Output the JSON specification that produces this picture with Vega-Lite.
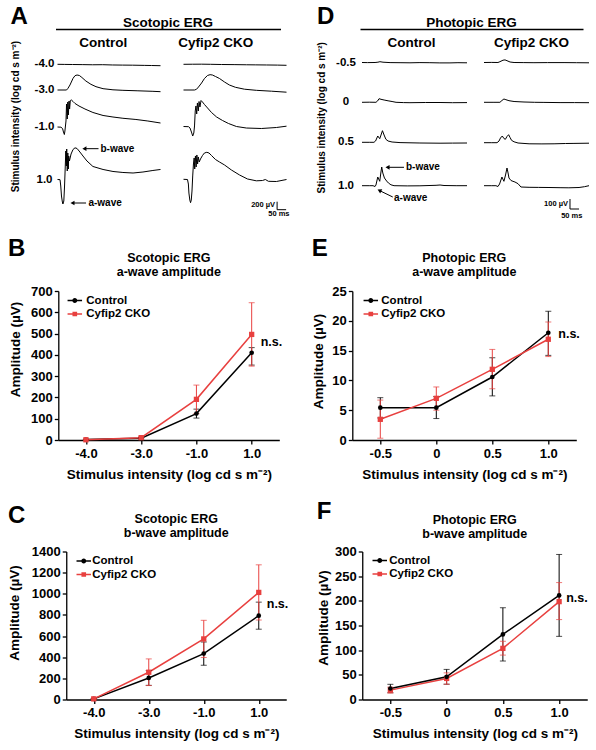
{
"$schema":"https://vega.github.io/schema/vega-lite/v6.json",
"padding":{"left":2,"top":4,"right":2,"bottom":2},
"config":{"font":"Liberation Sans","view":{"stroke":null},"mark":{"color":"black"},
"text":{"font":"Liberation Sans","fontWeight":"bold","color":"black"},
"title":{"font":"Liberation Sans","fontWeight":"bold","color":"black"},
"axis":{"labelFont":"Liberation Sans","titleFont":"Liberation Sans","labelFontWeight":"bold","titleFontWeight":"bold","labelColor":"black","titleColor":"black","domainColor":"black","tickColor":"black","grid":false,"labelOverlap":false},
"legend":{"labelFont":"Liberation Sans"}},
"datasets":{
"Ac1":[{"t":0,"v":0},{"t":40,"v":-3},{"t":83,"v":-5},{"t":140,"v":-8},{"t":194,"v":-12},{"t":250,"v":-10},{"t":304,"v":-17},{"t":360,"v":-20},{"t":415,"v":-22},{"t":480,"v":-27},{"t":520,"v":-30},{"t":570,"v":-35}],
"Ac2":[{"t":0,"v":0},{"t":50,"v":0},{"t":58,"v":42},{"t":69,"v":125},{"t":86,"v":292},{"t":97,"v":358},{"t":108,"v":375},{"t":121,"v":363},{"t":135,"v":313},{"t":157,"v":225},{"t":185,"v":142},{"t":213,"v":83},{"t":252,"v":33},{"t":307,"v":5},{"t":362,"v":-8},{"t":445,"v":-20},{"t":528,"v":-33},{"t":570,"v":-42}],
"Ac3":[{"t":0,"v":0},{"t":19,"v":-5},{"t":28,"v":-38},{"t":33,"v":-125},{"t":38,"v":-188},{"t":41,"v":-100},{"t":47,"v":150},{"t":50,"v":575},{"t":54,"v":200},{"t":57,"v":625},{"t":60,"v":300},{"t":64,"v":650},{"t":67,"v":450},{"t":71,"v":663},{"t":77,"v":675},{"t":86,"v":638},{"t":97,"v":588},{"t":119,"v":525},{"t":152,"v":450},{"t":196,"v":363},{"t":252,"v":288},{"t":307,"v":250},{"t":362,"v":218},{"t":434,"v":188},{"t":500,"v":150},{"t":570,"v":100}],
"Ac4":[{"t":0,"v":13},{"t":14,"v":8},{"t":18,"v":-150},{"t":22,"v":-400},{"t":27,"v":-550},{"t":30,"v":-600},{"t":35,"v":-525},{"t":39,"v":-150},{"t":43,"v":350},{"t":46,"v":725},{"t":49,"v":350},{"t":51,"v":775},{"t":54,"v":225},{"t":57,"v":675},{"t":60,"v":275},{"t":62,"v":600},{"t":66,"v":475},{"t":75,"v":650},{"t":86,"v":763},{"t":97,"v":805},{"t":108,"v":788},{"t":124,"v":700},{"t":141,"v":600},{"t":163,"v":475},{"t":196,"v":338},{"t":252,"v":263},{"t":307,"v":213},{"t":362,"v":188},{"t":418,"v":175},{"t":473,"v":200},{"t":528,"v":238},{"t":570,"v":263}],
"Ak1":[{"t":0,"v":0},{"t":50,"v":2},{"t":100,"v":3},{"t":150,"v":0},{"t":210,"v":-5},{"t":280,"v":-8},{"t":348,"v":-12},{"t":400,"v":-14},{"t":459,"v":-17},{"t":520,"v":-20},{"t":570,"v":-25}],
"Ak2":[{"t":0,"v":0},{"t":61,"v":0},{"t":72,"v":18},{"t":83,"v":75},{"t":100,"v":175},{"t":116,"v":288},{"t":133,"v":363},{"t":147,"v":383},{"t":160,"v":375},{"t":177,"v":338},{"t":199,"v":288},{"t":227,"v":200},{"t":254,"v":125},{"t":287,"v":68},{"t":337,"v":20},{"t":403,"v":-8},{"t":487,"v":-30},{"t":570,"v":-55}],
"Ak3":[{"t":0,"v":0},{"t":28,"v":-5},{"t":36,"v":-38},{"t":44,"v":-138},{"t":51,"v":-238},{"t":57,"v":-163},{"t":61,"v":13},{"t":65,"v":388},{"t":69,"v":513},{"t":73,"v":313},{"t":77,"v":588},{"t":82,"v":388},{"t":86,"v":625},{"t":91,"v":488},{"t":97,"v":650},{"t":105,"v":613},{"t":116,"v":550},{"t":133,"v":463},{"t":155,"v":350},{"t":183,"v":238},{"t":216,"v":150},{"t":249,"v":75},{"t":293,"v":0},{"t":348,"v":-38},{"t":431,"v":-50},{"t":514,"v":-25},{"t":570,"v":8}],
"Ak4":[{"t":0,"v":0},{"t":22,"v":-5},{"t":27,"v":-118},{"t":30,"v":-343},{"t":35,"v":-518},{"t":39,"v":-585},{"t":43,"v":-518},{"t":47,"v":-293},{"t":51,"v":83},{"t":55,"v":383},{"t":59,"v":533},{"t":62,"v":258},{"t":66,"v":583},{"t":70,"v":308},{"t":74,"v":608},{"t":78,"v":383},{"t":82,"v":558},{"t":87,"v":433},{"t":94,"v":508},{"t":105,"v":595},{"t":116,"v":658},{"t":129,"v":675},{"t":141,"v":658},{"t":155,"v":595},{"t":177,"v":495},{"t":199,"v":433},{"t":227,"v":358},{"t":265,"v":233},{"t":310,"v":108},{"t":354,"v":8},{"t":403,"v":-38},{"t":437,"v":-30},{"t":453,"v":-5},{"t":470,"v":-50},{"t":514,"v":-55},{"t":570,"v":-5}],
"Dc1":[{"t":0,"v":0},{"t":30,"v":-1},{"t":72,"v":0},{"t":88,"v":3},{"t":99,"v":8},{"t":116,"v":3},{"t":155,"v":-1},{"t":210,"v":-2},{"t":265,"v":-3},{"t":320,"v":-1},{"t":375,"v":-2},{"t":430,"v":-4},{"t":486,"v":-4},{"t":530,"v":-2},{"t":580,"v":-3}],
"Dc2":[{"t":0,"v":0},{"t":40,"v":1},{"t":77,"v":0},{"t":86,"v":13},{"t":94,"v":36},{"t":105,"v":30},{"t":122,"v":23},{"t":144,"v":15},{"t":166,"v":8},{"t":188,"v":0},{"t":230,"v":-3},{"t":265,"v":-4},{"t":350,"v":-2},{"t":431,"v":-2},{"t":500,"v":-4},{"t":580,"v":-3}],
"Dc3":[{"t":0,"v":0},{"t":40,"v":0},{"t":66,"v":0},{"t":75,"v":13},{"t":87,"v":63},{"t":98,"v":36},{"t":105,"v":73},{"t":113,"v":116},{"t":122,"v":73},{"t":132,"v":30},{"t":144,"v":13},{"t":166,"v":3},{"t":210,"v":-3},{"t":320,"v":-7},{"t":431,"v":-9},{"t":500,"v":-8},{"t":580,"v":-7}],
"Dc4":[{"t":0,"v":0},{"t":40,"v":0},{"t":61,"v":0},{"t":72,"v":-8},{"t":77,"v":7},{"t":87,"v":87},{"t":98,"v":44},{"t":104,"v":127},{"t":109,"v":187},{"t":115,"v":127},{"t":124,"v":77},{"t":136,"v":47},{"t":146,"v":27},{"t":160,"v":9},{"t":177,"v":0},{"t":250,"v":-2},{"t":320,"v":-1},{"t":409,"v":4},{"t":431,"v":7},{"t":453,"v":2},{"t":520,"v":0},{"t":580,"v":0}],
"Dk1":[{"t":0,"v":0},{"t":40,"v":1},{"t":77,"v":0},{"t":88,"v":8},{"t":105,"v":23},{"t":116,"v":26},{"t":127,"v":18},{"t":144,"v":5},{"t":166,"v":0},{"t":220,"v":-1},{"t":276,"v":-2},{"t":350,"v":-1},{"t":442,"v":-1},{"t":510,"v":-2},{"t":580,"v":-3}],
"Dk2":[{"t":0,"v":0},{"t":50,"v":0},{"t":88,"v":0},{"t":99,"v":18},{"t":110,"v":33},{"t":121,"v":26},{"t":138,"v":16},{"t":166,"v":8},{"t":221,"v":3},{"t":280,"v":0},{"t":331,"v":-1},{"t":420,"v":-3},{"t":500,"v":-3},{"t":580,"v":-4}],
"Dk3":[{"t":0,"v":0},{"t":40,"v":0},{"t":72,"v":0},{"t":83,"v":17},{"t":91,"v":47},{"t":101,"v":67},{"t":110,"v":42},{"t":118,"v":34},{"t":127,"v":62},{"t":136,"v":80},{"t":144,"v":52},{"t":152,"v":24},{"t":166,"v":9},{"t":188,"v":-3},{"t":249,"v":-11},{"t":320,"v":-12},{"t":387,"v":-11},{"t":450,"v":-8},{"t":497,"v":-7},{"t":580,"v":-5}],
"Dk4":[{"t":0,"v":0},{"t":40,"v":0},{"t":66,"v":0},{"t":77,"v":-8},{"t":86,"v":17},{"t":99,"v":87},{"t":110,"v":44},{"t":119,"v":107},{"t":127,"v":177},{"t":133,"v":127},{"t":138,"v":77},{"t":149,"v":52},{"t":160,"v":44},{"t":171,"v":37},{"t":188,"v":20},{"t":204,"v":-13},{"t":249,"v":-16},{"t":300,"v":-17},{"t":359,"v":-18},{"t":420,"v":-20},{"t":469,"v":-21},{"t":525,"v":-18},{"t":555,"v":-10},{"t":580,"v":0}]
},
"resolve":{"scale":{"color":"independent","shape":"independent"},"legend":{"color":"independent","shape":"independent"}},
"columns":1,"spacing":17,
"concat":[
{"hconcat":[
 {"width":1,"height":1,"data":{"values":[{}]},"mark":{"type":"text","text":""},"encoding":{}},
 {"hconcat":[
 {"title":{"text":"A","anchor":"start","fontSize":24,"offset":-13},
  "vconcat":[{
   "title":{"text":"Stimulus intensity (log cd s m⁻²)","orient":"left","fontSize":10,"offset":13,"anchor":"middle"},
   "spacing":0,
   "vconcat":[
    {"hconcat":[
      {"width":22,"height":1,"data":{"values":[{}]},"mark":{"type":"text","text":""},"encoding":{}},
      {"width":225,"height":1,"title":{"text":"Scotopic ERG","fontSize":13.5,"offset":-6.5,"frame":"group","anchor":"middle"},
       "data":{"values":[{"g":"Control"},{"g":"Cyfip2 CKO"}]},"mark":{"type":"text","text":""},
       "encoding":{"x":{"field":"g","type":"nominal","sort":null,"scale":{"type":"band","paddingInner":0,"paddingOuter":0},"axis":{"title":null,"orient":"bottom","ticks":false,"domain":true,"domainWidth":1.3,"labelFontSize":13.5,"labelPadding":6,"labelOffset":-8.5,"labelAngle":0}}}}
    ],"spacing":0},
    {"hconcat":[
      {"width":22,"height":23,"data":{"values":[{"label":"-4.0"}]},"mark":{"type":"text","fontSize":11.5,"align":"center","baseline":"middle"},"encoding":{"text":{"field":"label"},"y":{"datum":0,"scale":{"domain":[-192.5,382.5],"nice":false,"zero":false},"axis":null}}},
      {"hconcat":[
        {"width":103,"height":23,"data":{"name":"Ac1"},"mark":{"type":"line","strokeWidth":1},"encoding":{"x":{"field":"t","type":"quantitative","scale":{"domain":[0,570],"nice":false,"zero":false},"axis":null},"y":{"field":"v","type":"quantitative","scale":{"domain":[-192.5,382.5],"nice":false,"zero":false},"axis":null}}},
        {"width":103,"height":23,"data":{"name":"Ak1"},"mark":{"type":"line","strokeWidth":1},"encoding":{"x":{"field":"t","type":"quantitative","scale":{"domain":[0,570],"nice":false,"zero":false},"axis":null},"y":{"field":"v","type":"quantitative","scale":{"domain":[-192.5,382.5],"nice":false,"zero":false},"axis":null}}}
      ],"spacing":19}
    ],"spacing":0},
    {"hconcat":[
      {"width":22,"height":26,"data":{"values":[{"label":"-3.0"}]},"mark":{"type":"text","fontSize":11.5,"align":"center","baseline":"middle"},"encoding":{"text":{"field":"label"},"y":{"datum":0,"scale":{"domain":[-200,450],"nice":false,"zero":false},"axis":null}}},
      {"hconcat":[
        {"width":103,"height":26,"data":{"name":"Ac2"},"mark":{"type":"line","strokeWidth":1},"encoding":{"x":{"field":"t","type":"quantitative","scale":{"domain":[0,570],"nice":false,"zero":false},"axis":null},"y":{"field":"v","type":"quantitative","scale":{"domain":[-200,450],"nice":false,"zero":false},"axis":null}}},
        {"width":103,"height":26,"data":{"name":"Ak2"},"mark":{"type":"line","strokeWidth":1},"encoding":{"x":{"field":"t","type":"quantitative","scale":{"domain":[0,570],"nice":false,"zero":false},"axis":null},"y":{"field":"v","type":"quantitative","scale":{"domain":[-200,450],"nice":false,"zero":false},"axis":null}}}
      ],"spacing":19}
    ],"spacing":0},
    {"hconcat":[
      {"width":22,"height":42,"data":{"values":[{"label":"-1.0"}]},"mark":{"type":"text","fontSize":11.5,"align":"center","baseline":"middle"},"encoding":{"text":{"field":"label"},"y":{"datum":0,"scale":{"domain":[-350,700],"nice":false,"zero":false},"axis":null}}},
      {"hconcat":[
        {"width":103,"height":42,"data":{"name":"Ac3"},"mark":{"type":"line","strokeWidth":1},"encoding":{"x":{"field":"t","type":"quantitative","scale":{"domain":[0,570],"nice":false,"zero":false},"axis":null},"y":{"field":"v","type":"quantitative","scale":{"domain":[-350,700],"nice":false,"zero":false},"axis":null}}},
        {"width":103,"height":42,"data":{"name":"Ak3"},"mark":{"type":"line","strokeWidth":1},"encoding":{"x":{"field":"t","type":"quantitative","scale":{"domain":[0,570],"nice":false,"zero":false},"axis":null},"y":{"field":"v","type":"quantitative","scale":{"domain":[-362.5,687.5],"nice":false,"zero":false},"axis":null}}}
      ],"spacing":19}
    ],"spacing":0},
    {"hconcat":[
      {"width":22,"height":76,"data":{"values":[{"label":"1.0"}]},"mark":{"type":"text","fontSize":11.5,"align":"center","baseline":"middle"},"encoding":{"text":{"field":"label"},"y":{"datum":0,"scale":{"domain":[-925,975],"nice":false,"zero":false},"axis":null}}},
      {"hconcat":[
        {"width":103,"height":76,"layer":[
          {"data":{"name":"Ac4"},"mark":{"type":"line","strokeWidth":1},"encoding":{"x":{"field":"t","type":"quantitative","scale":{"domain":[0,570],"nice":false,"zero":false},"axis":null},"y":{"field":"v","type":"quantitative","scale":{"domain":[-925,975],"nice":false,"zero":false},"axis":null}}},
          {"data":{"values":[{}]},"mark":{"type":"rule","strokeWidth":1},"encoding":{"x":{"datum":149},"x2":{"datum":227},"y":{"datum":783},"y2":{"datum":783}}},
          {"data":{"values":[{}]},"mark":{"type":"point","shape":"triangle-left","filled":true,"size":22,"opacity":1},"encoding":{"x":{"datum":149},"y":{"datum":783}}},
          {"data":{"values":[{}]},"mark":{"type":"text","text":"b-wave","align":"left","baseline":"middle","fontSize":10},"encoding":{"x":{"datum":238},"y":{"datum":783}}},
          {"data":{"values":[{}]},"mark":{"type":"rule","strokeWidth":1},"encoding":{"x":{"datum":83},"x2":{"datum":158},"y":{"datum":-575},"y2":{"datum":-575}}},
          {"data":{"values":[{}]},"mark":{"type":"point","shape":"triangle-left","filled":true,"size":22,"opacity":1},"encoding":{"x":{"datum":83},"y":{"datum":-575}}},
          {"data":{"values":[{}]},"mark":{"type":"text","text":"a-wave","align":"left","baseline":"middle","fontSize":10},"encoding":{"x":{"datum":171},"y":{"datum":-575}}}
        ]},
        {"width":103,"height":76,"layer":[
          {"data":{"name":"Ak4"},"mark":{"type":"line","strokeWidth":1},"encoding":{"x":{"field":"t","type":"quantitative","scale":{"domain":[0,570],"nice":false,"zero":false},"axis":null},"y":{"field":"v","type":"quantitative","scale":{"domain":[-942.5,957.5],"nice":false,"zero":false},"axis":null}}},
          {"data":{"values":[{}]},"mark":{"type":"rule","strokeWidth":1},"encoding":{"x":{"datum":518},"y":{"datum":-560},"y2":{"datum":-760}}},
          {"data":{"values":[{}]},"mark":{"type":"rule","strokeWidth":1},"encoding":{"x":{"datum":518},"x2":{"datum":568},"y":{"datum":-760}}},
          {"data":{"values":[{}]},"mark":{"type":"text","text":"200 µV","align":"right","baseline":"middle","fontSize":7.5,"dx":-2},"encoding":{"x":{"datum":518},"y":{"datum":-640}}},
          {"data":{"values":[{}]},"mark":{"type":"text","text":"50 ms","align":"center","baseline":"middle","fontSize":7.5},"encoding":{"x":{"datum":528},"y":{"datum":-868}}}
        ]}
      ],"spacing":19}
    ],"spacing":0}
   ]
  }]
 },
 {"title":{"text":"D","anchor":"start","fontSize":24,"offset":-13},
  "vconcat":[{
   "title":{"text":"Stimulus intensity (log cd s m⁻²)","orient":"left","fontSize":10,"offset":8,"anchor":"middle"},
   "spacing":0,
   "vconcat":[
    {"hconcat":[
      {"width":22,"height":1,"data":{"values":[{}]},"mark":{"type":"text","text":""},"encoding":{}},
      {"width":223,"height":1,"title":{"text":"Photopic ERG","fontSize":13.5,"offset":-6.5,"frame":"group","anchor":"middle"},
       "data":{"values":[{"g":"Control"},{"g":"Cyfip2 CKO"}]},"mark":{"type":"text","text":""},
       "encoding":{"x":{"field":"g","type":"nominal","sort":null,"scale":{"type":"band","paddingInner":0.14,"paddingOuter":0},"axis":{"title":null,"orient":"bottom","ticks":false,"domain":true,"domainWidth":1.3,"labelFontSize":13.5,"labelPadding":6,"labelAngle":0}}}}
    ],"spacing":3},
    {"hconcat":[
      {"width":22,"height":33,"data":{"values":[{"label":"-0.5"}]},"mark":{"type":"text","fontSize":11.5,"align":"center","baseline":"middle"},"encoding":{"text":{"field":"label"},"y":{"datum":0,"scale":{"domain":[-195,135],"nice":false,"zero":false},"axis":null}}},
      {"hconcat":[
        {"width":105,"height":33,"data":{"name":"Dc1"},"mark":{"type":"line","strokeWidth":1},"encoding":{"x":{"field":"t","type":"quantitative","scale":{"domain":[0,580],"nice":false,"zero":false},"axis":null},"y":{"field":"v","type":"quantitative","scale":{"domain":[-195,135],"nice":false,"zero":false},"axis":null}}},
        {"width":105,"height":33,"data":{"name":"Dk1"},"mark":{"type":"line","strokeWidth":1},"encoding":{"x":{"field":"t","type":"quantitative","scale":{"domain":[0,580],"nice":false,"zero":false},"axis":null},"y":{"field":"v","type":"quantitative","scale":{"domain":[-195,135],"nice":false,"zero":false},"axis":null}}}
      ],"spacing":13}
    ],"spacing":3},
    {"hconcat":[
      {"width":22,"height":40,"data":{"values":[{"label":"0"}]},"mark":{"type":"text","fontSize":11.5,"align":"center","baseline":"middle"},"encoding":{"text":{"field":"label"},"y":{"datum":0,"scale":{"domain":[-197,203],"nice":false,"zero":false},"axis":null}}},
      {"hconcat":[
        {"width":105,"height":40,"data":{"name":"Dc2"},"mark":{"type":"line","strokeWidth":1},"encoding":{"x":{"field":"t","type":"quantitative","scale":{"domain":[0,580],"nice":false,"zero":false},"axis":null},"y":{"field":"v","type":"quantitative","scale":{"domain":[-197,203],"nice":false,"zero":false},"axis":null}}},
        {"width":105,"height":40,"data":{"name":"Dk2"},"mark":{"type":"line","strokeWidth":1},"encoding":{"x":{"field":"t","type":"quantitative","scale":{"domain":[0,580],"nice":false,"zero":false},"axis":null},"y":{"field":"v","type":"quantitative","scale":{"domain":[-197,203],"nice":false,"zero":false},"axis":null}}}
      ],"spacing":13}
    ],"spacing":3},
    {"hconcat":[
      {"width":22,"height":40,"data":{"values":[{"label":"0.5"}]},"mark":{"type":"text","fontSize":11.5,"align":"center","baseline":"middle"},"encoding":{"text":{"field":"label"},"y":{"datum":0,"scale":{"domain":[-197,203],"nice":false,"zero":false},"axis":null}}},
      {"hconcat":[
        {"width":105,"height":40,"data":{"name":"Dc3"},"mark":{"type":"line","strokeWidth":1},"encoding":{"x":{"field":"t","type":"quantitative","scale":{"domain":[0,580],"nice":false,"zero":false},"axis":null},"y":{"field":"v","type":"quantitative","scale":{"domain":[-197,203],"nice":false,"zero":false},"axis":null}}},
        {"width":105,"height":40,"data":{"name":"Dk3"},"mark":{"type":"line","strokeWidth":1},"encoding":{"x":{"field":"t","type":"quantitative","scale":{"domain":[0,580],"nice":false,"zero":false},"axis":null},"y":{"field":"v","type":"quantitative","scale":{"domain":[-193,207],"nice":false,"zero":false},"axis":null}}}
      ],"spacing":13}
    ],"spacing":3},
    {"hconcat":[
      {"width":22,"height":55,"data":{"values":[{"label":"1.0"}]},"mark":{"type":"text","fontSize":11.5,"align":"center","baseline":"middle"},"encoding":{"text":{"field":"label"},"y":{"datum":0,"scale":{"domain":[-343,207],"nice":false,"zero":false},"axis":null}}},
      {"hconcat":[
        {"width":105,"height":55,"layer":[
          {"data":{"name":"Dc4"},"mark":{"type":"line","strokeWidth":1},"encoding":{"x":{"field":"t","type":"quantitative","scale":{"domain":[0,580],"nice":false,"zero":false},"axis":null},"y":{"field":"v","type":"quantitative","scale":{"domain":[-343,207],"nice":false,"zero":false},"axis":null}}},
          {"data":{"values":[{}]},"mark":{"type":"rule","strokeWidth":1},"encoding":{"x":{"datum":141},"x2":{"datum":232},"y":{"datum":184},"y2":{"datum":184}}},
          {"data":{"values":[{}]},"mark":{"type":"point","shape":"triangle-left","filled":true,"size":22,"opacity":1},"encoding":{"x":{"datum":141},"y":{"datum":184}}},
          {"data":{"values":[{}]},"mark":{"type":"text","text":"b-wave","align":"left","baseline":"middle","fontSize":10},"encoding":{"x":{"datum":243},"y":{"datum":184}}},
          {"data":{"values":[{}]},"mark":{"type":"rule","strokeWidth":1},"encoding":{"x":{"datum":96},"x2":{"datum":170},"y":{"datum":-48},"y2":{"datum":-113}}},
          {"data":{"values":[{}]},"mark":{"type":"point","shape":"triangle-left","filled":true,"size":22,"opacity":1,"angle":26},"encoding":{"x":{"datum":96},"y":{"datum":-48}}},
          {"data":{"values":[{}]},"mark":{"type":"text","text":"a-wave","align":"left","baseline":"middle","fontSize":10},"encoding":{"x":{"datum":177},"y":{"datum":-120}}}
        ]},
        {"width":105,"height":55,"layer":[
          {"data":{"name":"Dk4"},"mark":{"type":"line","strokeWidth":1},"encoding":{"x":{"field":"t","type":"quantitative","scale":{"domain":[0,580],"nice":false,"zero":false},"axis":null},"y":{"field":"v","type":"quantitative","scale":{"domain":[-343,207],"nice":false,"zero":false},"axis":null}}},
          {"data":{"values":[{}]},"mark":{"type":"rule","strokeWidth":1},"encoding":{"x":{"datum":475},"y":{"datum":-133},"y2":{"datum":-233}}},
          {"data":{"values":[{}]},"mark":{"type":"rule","strokeWidth":1},"encoding":{"x":{"datum":475},"x2":{"datum":525},"y":{"datum":-233}}},
          {"data":{"values":[{}]},"mark":{"type":"text","text":"100 µV","align":"right","baseline":"middle","fontSize":7.5,"dx":-2},"encoding":{"x":{"datum":475},"y":{"datum":-183}}},
          {"data":{"values":[{}]},"mark":{"type":"text","text":"50 ms","align":"center","baseline":"middle","fontSize":7.5},"encoding":{"x":{"datum":485},"y":{"datum":-300}}}
        ]}
      ],"spacing":13}
    ],"spacing":3}
   ]
  }]
 }
 ],"spacing":25.5}
],"spacing":6.5},
{"vconcat":[
{"hconcat":[
 {"width":1,"height":1,"data":{"values":[{}]},"mark":{"type":"text","text":""},"encoding":{}},
 {"hconcat":[
 {"title":{"text":"B","anchor":"start","fontSize":24,"offset":-9},
  "resolve":{"scale":{"color":"independent","shape":"independent"},"legend":{"color":"independent","shape":"independent"}},
  "vconcat":[{
   "width":221,"height":149,
   "title":{"text":["Scotopic ERG","a-wave amplitude"],"fontSize":12.5,"lineHeight":14,"offset":6.5,"frame":"group","anchor":"middle"},
   "data":{"values":[
    {"g":"Control","x":"-4.0","y":2,"lo":0,"hi":4},{"g":"Control","x":"-3.0","y":8,"lo":4,"hi":12},{"g":"Control","x":"-1.0","y":124,"lo":103,"hi":145},{"g":"Control","x":"1.0","y":410,"lo":352,"hi":434},
    {"g":"Cyfip2 CKO","x":"-4.0","y":1,"lo":0,"hi":3},{"g":"Cyfip2 CKO","x":"-3.0","y":11,"lo":5,"hi":17},{"g":"Cyfip2 CKO","x":"-1.0","y":191,"lo":124,"hi":258},{"g":"Cyfip2 CKO","x":"1.0","y":496,"lo":347,"hi":645}]},
   "encoding":{"x":{"field":"x","type":"ordinal","sort":["-4.0","-3.0","-1.0","1.0"],"scale":{"type":"point","padding":0.5},"axis":{"title":"Stimulus intensity (log cd s m⁻²)","labelAngle":0,"labelFontSize":13,"titleFontSize":13.5,"tickSize":4,"labelPadding":3,"titlePadding":7,"domainWidth":1.3,"tickWidth":1.3}}},
   "layer":[
    {"transform":[{"filter":"datum.g === 'Control'"}],"mark":{"type":"line","strokeWidth":1.5,"color":"black"},"encoding":{"y":{"field":"y","type":"quantitative","title":"Amplitude (µV)","scale":{"domain":[0,700],"nice":false},"axis":{"values":[0,100,200,300,400,500,600,700],"tickCount":8,"labelOverlap":false,"format":"d","labelFontSize":13,"titleFontSize":13.5,"tickSize":4,"labelPadding":2,"titlePadding":8.5,"domainWidth":1.3,"tickWidth":1.3,"titleY":58}},"order":{"value":null}}},
    {"transform":[{"filter":"datum.g === 'Cyfip2 CKO'"}],"mark":{"type":"line","strokeWidth":1.5,"color":"#e8403f"},"encoding":{"y":{"field":"y","type":"quantitative","title":"Amplitude (µV)","axis":{"values":[0,100,200,300,400,500,600,700],"tickCount":8,"labelOverlap":false,"format":"d","labelFontSize":13,"titleFontSize":13.5,"tickSize":4,"labelPadding":2,"titlePadding":8.5,"domainWidth":1.3,"tickWidth":1.3,"titleY":58}},"order":{"value":null}}},
    {"transform":[{"filter":"datum.g === 'Control'"}],"mark":{"type":"errorbar","ticks":true,"size":6,"thickness":1,"color":"black"},"encoding":{"y":{"field":"lo","type":"quantitative","title":"Amplitude (µV)"},"y2":{"field":"hi"}}},
    {"transform":[{"filter":"datum.g === 'Cyfip2 CKO'"}],"mark":{"type":"errorbar","ticks":true,"size":6,"thickness":1,"color":"#e8403f"},"encoding":{"y":{"field":"lo","type":"quantitative","title":"Amplitude (µV)"},"y2":{"field":"hi"}}},
    {"transform":[{"filter":"datum.g === 'Control'"}],"mark":{"type":"point","shape":"circle","filled":true,"size":22,"opacity":1,"color":"black"},"encoding":{"y":{"field":"y","type":"quantitative","title":"Amplitude (µV)","axis":{"values":[0,100,200,300,400,500,600,700],"tickCount":8,"labelOverlap":false,"format":"d","labelFontSize":13,"titleFontSize":13.5,"tickSize":4,"labelPadding":2,"titlePadding":8.5,"domainWidth":1.3,"tickWidth":1.3,"titleY":58}}}},
    {"transform":[{"filter":"datum.g === 'Cyfip2 CKO'"}],"mark":{"type":"point","shape":"square","filled":true,"size":28,"opacity":1,"color":"#e8403f"},"encoding":{"y":{"field":"y","type":"quantitative","title":"Amplitude (µV)","axis":{"values":[0,100,200,300,400,500,600,700],"tickCount":8,"labelOverlap":false,"format":"d","labelFontSize":13,"titleFontSize":13.5,"tickSize":4,"labelPadding":2,"titlePadding":8.5,"domainWidth":1.3,"tickWidth":1.3,"titleY":58}}}},
    {"transform":[{"filter":"false"}],"mark":{"type":"point","filled":true,"opacity":1},"encoding":{"y":{"field":"y","type":"quantitative","title":"Amplitude (µV)","axis":{"values":[0,100,200,300,400,500,600,700],"tickCount":8,"labelOverlap":false,"format":"d","labelFontSize":13,"titleFontSize":13.5,"tickSize":4,"labelPadding":2,"titlePadding":8.5,"domainWidth":1.3,"tickWidth":1.3,"titleY":58}},
      "color":{"field":"g","type":"nominal","scale":{"domain":["Control","Cyfip2 CKO"],"range":["#000000","#e8403f"]},"legend":{"title":null,"orient":"none","legendX":9,"legendY":2,"padding":0,"labelFontSize":11.5,"labelFontWeight":"bold","labelColor":"black","symbolSize":210,"rowPadding":0.5,"labelOffset":4,"symbolStrokeWidth":0}},
      "shape":{"field":"g","type":"nominal","scale":{"domain":["Control","Cyfip2 CKO"],"range":["M-1,-0.09L1,-0.09L1,0.09L-1,0.09Z M-0.34,0A0.34,0.34 0 1,1 0.34,0A0.34,0.34 0 1,1 -0.34,0Z","M-1,-0.09L1,-0.09L1,0.09L-1,0.09Z M-0.32,-0.32L0.32,-0.32L0.32,0.32L-0.32,0.32Z"]},"legend":{"title":null,"orient":"none","legendX":9,"legendY":2,"padding":0,"labelFontSize":11.5,"labelFontWeight":"bold","labelColor":"black","symbolSize":210,"rowPadding":0.5,"labelOffset":4,"symbolStrokeWidth":0}}}},
    {"data":{"values":[{}]},"mark":{"type":"text","text":"n.s.","align":"left","baseline":"middle","dx":9,"fontSize":12.5},"encoding":{"x":{"datum":"1.0"},"y":{"datum":460}}}
   ]
  }]
 },
 {"title":{"text":"E","anchor":"start","fontSize":24,"offset":-9},
  "resolve":{"scale":{"color":"independent","shape":"independent"},"legend":{"color":"independent","shape":"independent"}},
  "vconcat":[{
   "width":224,"height":149,
   "title":{"text":["Photopic ERG","a-wave amplitude"],"fontSize":12.5,"lineHeight":14,"offset":6.5,"frame":"group","anchor":"middle"},
   "data":{"values":[
    {"g":"Control","x":"-0.5","y":5.43,"lo":3.7,"hi":7.1},{"g":"Control","x":"0","y":5.43,"lo":3.6,"hi":7.3},{"g":"Control","x":"0.5","y":10.57,"lo":7.4,"hi":13.8},{"g":"Control","x":"1.0","y":18.0,"lo":14.2,"hi":21.6},
    {"g":"Cyfip2 CKO","x":"-0.5","y":3.47,"lo":0.3,"hi":6.7},{"g":"Cyfip2 CKO","x":"0","y":6.99,"lo":5.0,"hi":8.9},{"g":"Cyfip2 CKO","x":"0.5","y":11.86,"lo":8.6,"hi":15.2},{"g":"Cyfip2 CKO","x":"1.0","y":16.9,"lo":14.0,"hi":19.8}]},
   "encoding":{"x":{"field":"x","type":"ordinal","sort":["-0.5","0","0.5","1.0"],"scale":{"type":"point","padding":0.5},"axis":{"title":"Stimulus intensity (log cd s m⁻²)","labelAngle":0,"labelFontSize":13,"titleFontSize":13.5,"tickSize":4,"labelPadding":3,"titlePadding":7,"domainWidth":1.3,"tickWidth":1.3}}},
   "layer":[
    {"transform":[{"filter":"datum.g === 'Control'"}],"mark":{"type":"line","strokeWidth":1.5,"color":"black"},"encoding":{"y":{"field":"y","type":"quantitative","title":"Amplitude (µV)","scale":{"domain":[0,25],"nice":false},"axis":{"values":[0,5,10,15,20,25],"tickCount":6,"labelOverlap":false,"format":"d","labelFontSize":13,"titleFontSize":13.5,"tickSize":4,"labelPadding":2,"titlePadding":6,"domainWidth":1.3,"tickWidth":1.3,"titleY":70}},"order":{"value":null}}},
    {"transform":[{"filter":"datum.g === 'Cyfip2 CKO'"}],"mark":{"type":"line","strokeWidth":1.5,"color":"#e8403f"},"encoding":{"y":{"field":"y","type":"quantitative","title":"Amplitude (µV)","axis":{"values":[0,5,10,15,20,25],"tickCount":6,"labelOverlap":false,"format":"d","labelFontSize":13,"titleFontSize":13.5,"tickSize":4,"labelPadding":2,"titlePadding":6,"domainWidth":1.3,"tickWidth":1.3,"titleY":70}},"order":{"value":null}}},
    {"transform":[{"filter":"datum.g === 'Control'"}],"mark":{"type":"errorbar","ticks":true,"size":6,"thickness":1,"color":"black"},"encoding":{"y":{"field":"lo","type":"quantitative","title":"Amplitude (µV)"},"y2":{"field":"hi"}}},
    {"transform":[{"filter":"datum.g === 'Cyfip2 CKO'"}],"mark":{"type":"errorbar","ticks":true,"size":6,"thickness":1,"color":"#e8403f"},"encoding":{"y":{"field":"lo","type":"quantitative","title":"Amplitude (µV)"},"y2":{"field":"hi"}}},
    {"transform":[{"filter":"datum.g === 'Control'"}],"mark":{"type":"point","shape":"circle","filled":true,"size":22,"opacity":1,"color":"black"},"encoding":{"y":{"field":"y","type":"quantitative","title":"Amplitude (µV)","axis":{"values":[0,5,10,15,20,25],"tickCount":6,"labelOverlap":false,"format":"d","labelFontSize":13,"titleFontSize":13.5,"tickSize":4,"labelPadding":2,"titlePadding":6,"domainWidth":1.3,"tickWidth":1.3,"titleY":70}}}},
    {"transform":[{"filter":"datum.g === 'Cyfip2 CKO'"}],"mark":{"type":"point","shape":"square","filled":true,"size":28,"opacity":1,"color":"#e8403f"},"encoding":{"y":{"field":"y","type":"quantitative","title":"Amplitude (µV)","axis":{"values":[0,5,10,15,20,25],"tickCount":6,"labelOverlap":false,"format":"d","labelFontSize":13,"titleFontSize":13.5,"tickSize":4,"labelPadding":2,"titlePadding":6,"domainWidth":1.3,"tickWidth":1.3,"titleY":70}}}},
    {"transform":[{"filter":"false"}],"mark":{"type":"point","filled":true,"opacity":1},"encoding":{"y":{"field":"y","type":"quantitative","title":"Amplitude (µV)","axis":{"values":[0,5,10,15,20,25],"tickCount":6,"labelOverlap":false,"format":"d","labelFontSize":13,"titleFontSize":13.5,"tickSize":4,"labelPadding":2,"titlePadding":6,"domainWidth":1.3,"tickWidth":1.3,"titleY":70}},
      "color":{"field":"g","type":"nominal","scale":{"domain":["Control","Cyfip2 CKO"],"range":["#000000","#e8403f"]},"legend":{"title":null,"orient":"none","legendX":11,"legendY":2,"padding":0,"labelFontSize":11.5,"labelFontWeight":"bold","labelColor":"black","symbolSize":210,"rowPadding":0.5,"labelOffset":3,"symbolStrokeWidth":0}},
      "shape":{"field":"g","type":"nominal","scale":{"domain":["Control","Cyfip2 CKO"],"range":["M-1,-0.09L1,-0.09L1,0.09L-1,0.09Z M-0.34,0A0.34,0.34 0 1,1 0.34,0A0.34,0.34 0 1,1 -0.34,0Z","M-1,-0.09L1,-0.09L1,0.09L-1,0.09Z M-0.32,-0.32L0.32,-0.32L0.32,0.32L-0.32,0.32Z"]},"legend":{"title":null,"orient":"none","legendX":11,"legendY":2,"padding":0,"labelFontSize":11.5,"labelFontWeight":"bold","labelColor":"black","symbolSize":210,"rowPadding":0.5,"labelOffset":3,"symbolStrokeWidth":0}}}},
    {"data":{"values":[{}]},"mark":{"type":"text","text":"n.s.","align":"left","baseline":"middle","dx":10,"fontSize":12.5},"encoding":{"x":{"datum":"1.0"},"y":{"datum":17.8}}}
   ]
  }]
 }
 ],"spacing":29,"resolve":{"scale":{"color":"independent","shape":"independent"},"legend":{"color":"independent","shape":"independent"}}}
],"spacing":4.3,"resolve":{"scale":{"color":"independent","shape":"independent"},"legend":{"color":"independent","shape":"independent"}}},
{"hconcat":[
 {"width":1,"height":1,"data":{"values":[{}]},"mark":{"type":"text","text":""},"encoding":{}},
 {"hconcat":[
 {"title":{"text":"C","anchor":"start","fontSize":24,"offset":-15},
  "resolve":{"scale":{"color":"independent","shape":"independent"},"legend":{"color":"independent","shape":"independent"}},
  "vconcat":[{
   "width":220,"height":148,
   "title":{"text":["Scotopic ERG","b-wave amplitude"],"fontSize":12.5,"lineHeight":14,"offset":6.5,"frame":"group","anchor":"middle"},
   "data":{"values":[
    {"g":"Control","x":"-4.0","y":6,"lo":2,"hi":10},{"g":"Control","x":"-3.0","y":204,"lo":134,"hi":274},{"g":"Control","x":"-1.0","y":434,"lo":324,"hi":544},{"g":"Control","x":"1.0","y":793,"lo":665,"hi":921},
    {"g":"Cyfip2 CKO","x":"-4.0","y":6,"lo":2,"hi":10},{"g":"Cyfip2 CKO","x":"-3.0","y":258,"lo":132,"hi":384},{"g":"Cyfip2 CKO","x":"-1.0","y":573,"lo":397,"hi":749},{"g":"Cyfip2 CKO","x":"1.0","y":1013,"lo":752,"hi":1274}]},
   "encoding":{"x":{"field":"x","type":"ordinal","sort":["-4.0","-3.0","-1.0","1.0"],"scale":{"type":"point","padding":0.5},"axis":{"title":"Stimulus intensity (log cd s m⁻²)","labelAngle":0,"labelFontSize":13,"titleFontSize":13.5,"tickSize":4,"labelPadding":3,"titlePadding":7,"domainWidth":1.3,"tickWidth":1.3}}},
   "layer":[
    {"transform":[{"filter":"datum.g === 'Control'"}],"mark":{"type":"line","strokeWidth":1.5,"color":"black"},"encoding":{"y":{"field":"y","type":"quantitative","title":"Amplitude (µV)","scale":{"domain":[0,1400],"nice":false},"axis":{"values":[0,200,400,600,800,1000,1200,1400],"tickCount":8,"labelOverlap":false,"format":"d","labelFontSize":13,"titleFontSize":13.5,"tickSize":4,"labelPadding":2,"titlePadding":9.35,"domainWidth":1.3,"tickWidth":1.3,"titleY":61}},"order":{"value":null}}},
    {"transform":[{"filter":"datum.g === 'Cyfip2 CKO'"}],"mark":{"type":"line","strokeWidth":1.5,"color":"#e8403f"},"encoding":{"y":{"field":"y","type":"quantitative","title":"Amplitude (µV)","axis":{"values":[0,200,400,600,800,1000,1200,1400],"tickCount":8,"labelOverlap":false,"format":"d","labelFontSize":13,"titleFontSize":13.5,"tickSize":4,"labelPadding":2,"titlePadding":9.35,"domainWidth":1.3,"tickWidth":1.3,"titleY":61}},"order":{"value":null}}},
    {"transform":[{"filter":"datum.g === 'Control'"}],"mark":{"type":"errorbar","ticks":true,"size":6,"thickness":1,"color":"black"},"encoding":{"y":{"field":"lo","type":"quantitative","title":"Amplitude (µV)"},"y2":{"field":"hi"}}},
    {"transform":[{"filter":"datum.g === 'Cyfip2 CKO'"}],"mark":{"type":"errorbar","ticks":true,"size":6,"thickness":1,"color":"#e8403f"},"encoding":{"y":{"field":"lo","type":"quantitative","title":"Amplitude (µV)"},"y2":{"field":"hi"}}},
    {"transform":[{"filter":"datum.g === 'Control'"}],"mark":{"type":"point","shape":"circle","filled":true,"size":22,"opacity":1,"color":"black"},"encoding":{"y":{"field":"y","type":"quantitative","title":"Amplitude (µV)","axis":{"values":[0,200,400,600,800,1000,1200,1400],"tickCount":8,"labelOverlap":false,"format":"d","labelFontSize":13,"titleFontSize":13.5,"tickSize":4,"labelPadding":2,"titlePadding":9.35,"domainWidth":1.3,"tickWidth":1.3,"titleY":61}}}},
    {"transform":[{"filter":"datum.g === 'Cyfip2 CKO'"}],"mark":{"type":"point","shape":"square","filled":true,"size":28,"opacity":1,"color":"#e8403f"},"encoding":{"y":{"field":"y","type":"quantitative","title":"Amplitude (µV)","axis":{"values":[0,200,400,600,800,1000,1200,1400],"tickCount":8,"labelOverlap":false,"format":"d","labelFontSize":13,"titleFontSize":13.5,"tickSize":4,"labelPadding":2,"titlePadding":9.35,"domainWidth":1.3,"tickWidth":1.3,"titleY":61}}}},
    {"transform":[{"filter":"false"}],"mark":{"type":"point","filled":true,"opacity":1},"encoding":{"y":{"field":"y","type":"quantitative","title":"Amplitude (µV)","axis":{"values":[0,200,400,600,800,1000,1200,1400],"tickCount":8,"labelOverlap":false,"format":"d","labelFontSize":13,"titleFontSize":13.5,"tickSize":4,"labelPadding":2,"titlePadding":9.35,"domainWidth":1.3,"tickWidth":1.3,"titleY":61}},
      "color":{"field":"g","type":"nominal","scale":{"domain":["Control","Cyfip2 CKO"],"range":["#000000","#e8403f"]},"legend":{"title":null,"orient":"none","legendX":10,"legendY":2,"padding":0,"labelFontSize":11.5,"labelFontWeight":"bold","labelColor":"black","symbolSize":210,"rowPadding":0.5,"labelOffset":1,"symbolStrokeWidth":0}},
      "shape":{"field":"g","type":"nominal","scale":{"domain":["Control","Cyfip2 CKO"],"range":["M-1,-0.09L1,-0.09L1,0.09L-1,0.09Z M-0.34,0A0.34,0.34 0 1,1 0.34,0A0.34,0.34 0 1,1 -0.34,0Z","M-1,-0.09L1,-0.09L1,0.09L-1,0.09Z M-0.32,-0.32L0.32,-0.32L0.32,0.32L-0.32,0.32Z"]},"legend":{"title":null,"orient":"none","legendX":10,"legendY":2,"padding":0,"labelFontSize":11.5,"labelFontWeight":"bold","labelColor":"black","symbolSize":210,"rowPadding":0.5,"labelOffset":1,"symbolStrokeWidth":0}}}},
    {"data":{"values":[{}]},"mark":{"type":"text","text":"n.s.","align":"left","baseline":"middle","dx":8,"fontSize":12.5},"encoding":{"x":{"datum":"1.0"},"y":{"datum":899}}}
   ]
  }]
 },
 {"title":{"text":"F","anchor":"start","fontSize":24,"offset":-10},
  "resolve":{"scale":{"color":"independent","shape":"independent"},"legend":{"color":"independent","shape":"independent"}},
  "vconcat":[{
   "width":225,"height":148,
   "title":{"text":["Photopic ERG","b-wave amplitude"],"fontSize":12.5,"lineHeight":14,"offset":5.2,"frame":"group","anchor":"middle"},
   "data":{"values":[
    {"g":"Control","x":"-0.5","y":22.3,"lo":13.8,"hi":30.8},{"g":"Control","x":"0","y":46,"lo":31,"hi":61},{"g":"Control","x":"0.5","y":132,"lo":78,"hi":186},{"g":"Control","x":"1.0","y":211,"lo":128,"hi":294},
    {"g":"Cyfip2 CKO","x":"-0.5","y":19,"lo":13,"hi":25},{"g":"Cyfip2 CKO","x":"0","y":42.7,"lo":31,"hi":54},{"g":"Cyfip2 CKO","x":"0.5","y":103.6,"lo":90,"hi":118},{"g":"Cyfip2 CKO","x":"1.0","y":198.4,"lo":162,"hi":237}]},
   "encoding":{"x":{"field":"x","type":"ordinal","sort":["-0.5","0","0.5","1.0"],"scale":{"type":"point","padding":0.5},"axis":{"title":"Stimulus intensity (log cd s m⁻²)","labelAngle":0,"labelFontSize":13,"titleFontSize":13.5,"tickSize":4,"labelPadding":3,"titlePadding":7,"domainWidth":1.3,"tickWidth":1.3}}},
   "layer":[
    {"transform":[{"filter":"datum.g === 'Cyfip2 CKO'"}],"mark":{"type":"line","strokeWidth":1.5,"color":"#e8403f"},"encoding":{"y":{"field":"y","type":"quantitative","title":"Amplitude (µV)","scale":{"domain":[0,300],"nice":false},"axis":{"values":[0,50,100,150,200,250,300],"tickCount":7,"labelOverlap":false,"format":"d","labelFontSize":13,"titleFontSize":13.5,"tickSize":4,"labelPadding":2,"titlePadding":3.85,"domainWidth":1.3,"tickWidth":1.3,"titleY":66}},"order":{"value":null}}},
    {"transform":[{"filter":"datum.g === 'Control'"}],"mark":{"type":"line","strokeWidth":1.5,"color":"black"},"encoding":{"y":{"field":"y","type":"quantitative","title":"Amplitude (µV)","axis":{"values":[0,50,100,150,200,250,300],"tickCount":7,"labelOverlap":false,"format":"d","labelFontSize":13,"titleFontSize":13.5,"tickSize":4,"labelPadding":2,"titlePadding":3.85,"domainWidth":1.3,"tickWidth":1.3,"titleY":66}},"order":{"value":null}}},
    {"transform":[{"filter":"datum.g === 'Control'"}],"mark":{"type":"errorbar","ticks":true,"size":6,"thickness":1,"color":"black"},"encoding":{"y":{"field":"lo","type":"quantitative","title":"Amplitude (µV)"},"y2":{"field":"hi"}}},
    {"transform":[{"filter":"datum.g === 'Cyfip2 CKO'"}],"mark":{"type":"errorbar","ticks":true,"size":6,"thickness":1,"color":"#e8403f"},"encoding":{"y":{"field":"lo","type":"quantitative","title":"Amplitude (µV)"},"y2":{"field":"hi"}}},
    {"transform":[{"filter":"datum.g === 'Cyfip2 CKO'"}],"mark":{"type":"point","shape":"square","filled":true,"size":28,"opacity":1,"color":"#e8403f"},"encoding":{"y":{"field":"y","type":"quantitative","title":"Amplitude (µV)","axis":{"values":[0,50,100,150,200,250,300],"tickCount":7,"labelOverlap":false,"format":"d","labelFontSize":13,"titleFontSize":13.5,"tickSize":4,"labelPadding":2,"titlePadding":3.85,"domainWidth":1.3,"tickWidth":1.3,"titleY":66}}}},
    {"transform":[{"filter":"datum.g === 'Control'"}],"mark":{"type":"point","shape":"circle","filled":true,"size":22,"opacity":1,"color":"black"},"encoding":{"y":{"field":"y","type":"quantitative","title":"Amplitude (µV)","axis":{"values":[0,50,100,150,200,250,300],"tickCount":7,"labelOverlap":false,"format":"d","labelFontSize":13,"titleFontSize":13.5,"tickSize":4,"labelPadding":2,"titlePadding":3.85,"domainWidth":1.3,"tickWidth":1.3,"titleY":66}}}},
    {"transform":[{"filter":"false"}],"mark":{"type":"point","filled":true,"opacity":1},"encoding":{"y":{"field":"y","type":"quantitative","title":"Amplitude (µV)","axis":{"values":[0,50,100,150,200,250,300],"tickCount":7,"labelOverlap":false,"format":"d","labelFontSize":13,"titleFontSize":13.5,"tickSize":4,"labelPadding":2,"titlePadding":3.85,"domainWidth":1.3,"tickWidth":1.3,"titleY":66}},
      "color":{"field":"g","type":"nominal","scale":{"domain":["Control","Cyfip2 CKO"],"range":["#000000","#e8403f"]},"legend":{"title":null,"orient":"none","legendX":10,"legendY":1.5,"padding":0,"labelFontSize":11.5,"labelFontWeight":"bold","labelColor":"black","symbolSize":210,"rowPadding":0.5,"labelOffset":2,"symbolStrokeWidth":0}},
      "shape":{"field":"g","type":"nominal","scale":{"domain":["Control","Cyfip2 CKO"],"range":["M-1,-0.09L1,-0.09L1,0.09L-1,0.09Z M-0.34,0A0.34,0.34 0 1,1 0.34,0A0.34,0.34 0 1,1 -0.34,0Z","M-1,-0.09L1,-0.09L1,0.09L-1,0.09Z M-0.32,-0.32L0.32,-0.32L0.32,0.32L-0.32,0.32Z"]},"legend":{"title":null,"orient":"none","legendX":10,"legendY":1.5,"padding":0,"labelFontSize":11.5,"labelFontWeight":"bold","labelColor":"black","symbolSize":210,"rowPadding":0.5,"labelOffset":2,"symbolStrokeWidth":0}}}},
    {"data":{"values":[{}]},"mark":{"type":"text","text":"n.s.","align":"left","baseline":"middle","dx":7,"fontSize":12.5},"encoding":{"x":{"datum":"1.0"},"y":{"datum":206.5}}}
   ]
  }]
 }
 ],"spacing":27,"resolve":{"scale":{"color":"independent","shape":"independent"},"legend":{"color":"independent","shape":"independent"}}}
],"spacing":4.25,"resolve":{"scale":{"color":"independent","shape":"independent"},"legend":{"color":"independent","shape":"independent"}}}
],"spacing":18.5,"resolve":{"scale":{"color":"independent","shape":"independent"},"legend":{"color":"independent","shape":"independent"}}}
]
}
